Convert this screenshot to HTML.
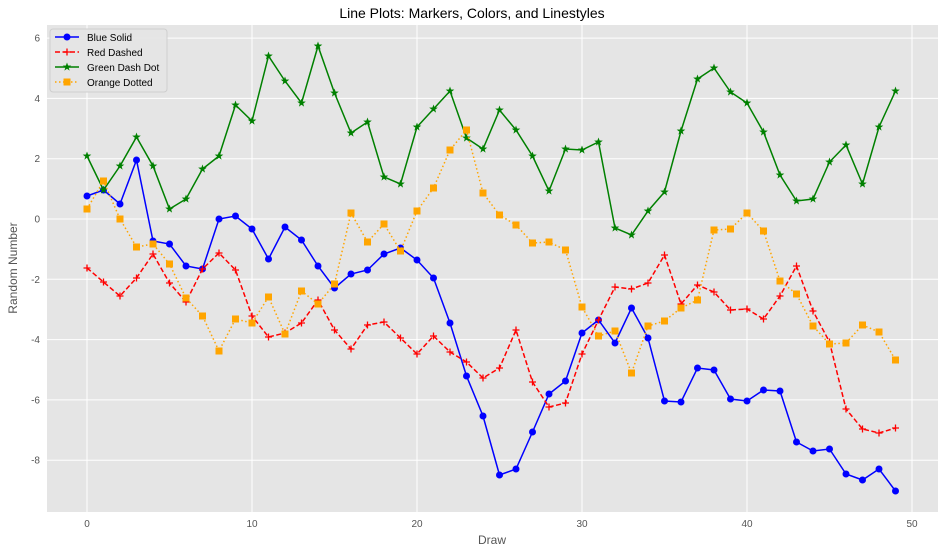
<!DOCTYPE html>
<html><head><meta charset="utf-8"><style>
body{margin:0;background:#fff;}
svg{display:block;font-family:"Liberation Sans","DejaVu Sans",sans-serif;}
</style></head><body>
<svg id="s" width="945" height="554" xmlns="http://www.w3.org/2000/svg">
<rect x="47" y="25" width="891" height="487" fill="#e5e5e5"/>
<g id="grid" stroke="#fff" stroke-width="1"></g>
<g id="series"></g>
<text x="472" y="18" text-anchor="middle" font-size="14" fill="#000">Line Plots: Markers, Colors, and Linestyles</text>
<text x="492" y="544" text-anchor="middle" font-size="12" fill="#555">Draw</text>
<text transform="translate(17,268) rotate(-90)" text-anchor="middle" font-size="12" fill="#555">Random Number</text>
<g id="ticks" font-size="10" fill="#555"></g>
<g id="legend"></g>
</svg>
<script>
const NS="http://www.w3.org/2000/svg";
function el(t,a,p){const e=document.createElementNS(NS,t);for(const k in a)e.setAttribute(k,a[k]);p.appendChild(e);return e;}
const g=document.getElementById('grid'),tk=document.getElementById('ticks');
for(let v=0;v<=50;v+=10){const x=87+16.5*v;el('line',{x1:x,x2:x,y1:25,y2:512},g);const t=el('text',{x:x,y:527,'text-anchor':'middle'},tk);t.textContent=v;}
for(let v=-8;v<=6;v+=2){const y=219-30.15*v;el('line',{x1:47,x2:938,y1:y,y2:y},g);const t=el('text',{x:40,y:y+3.5,'text-anchor':'end'},tk);t.textContent=v;}
const B=[196,190,204,160,241,244,266,269,219,216,229,259,227,240,266,288,274,270,254,248,260,278,323,376,416,475,469,432,394,381,333,320,343,308,338,401,402,368,370,399,401,390,391,442,451,449,474,480,469,491];
const R=[268,282,296,278,254,283,302,269,253,270,316,337,333,323,300,330,349,325,322,338,354,336,352,362,378,368,330,382,407,403,354,320,287,289,283,255,304,285,292,310,309,319,296,266,311,342,409,429,433,428];
const G=[156,190,166,137,166,209,199,169,156,105,121,56,81,103,46,93,133,122,177,184,127,109,91,138,149,110,130,156,191,149,150,142,228,235,211,192,131,79,68,92,103,132,175,201,199,162,145,184,127,91];
const O=[209,181,219,247,244,264,298,316,351,319,323,297,334,291,304,284,213,242,224,251,211,188,150,130,193,215,225,243,242,250,307,336,331,373,326,321,308,300,230,229,213,231,281,294,326,344,343,325,332,360];
const S=document.getElementById('series');
function star(cx,cy,r,p,c){let pts=[];for(let i=0;i<10;i++){const a=-Math.PI/2+i*Math.PI/5,rr=i%2?r*0.4:r;pts.push((cx+rr*Math.cos(a)).toFixed(1)+','+(cy+rr*Math.sin(a)).toFixed(1));}el('polygon',{points:pts.join(' '),fill:c},p);}
function marker(type,c,x,y,p){
 if(type=='o')el('circle',{cx:x,cy:y,r:3.5,fill:c},p);
 else if(type=='+'){el('path',{d:`M${x-3.5} ${y}h7M${x} ${y-3.5}v7`,stroke:c,'stroke-width':1.3},p);}
 else if(type=='*')star(x,y,4.5,p,c);
 else el('rect',{x:x-3.5,y:y-3.5,width:7,height:7,fill:c},p);
}
const ser=[[B,'#0000ff','','o'],[R,'#ff0000','5,2.5','+'],[G,'#008000','','*'],[O,'#ffa500','1.5,2.5','s']];
for(const[d,c,da,m] of ser){const pts=d.map((y,i)=>(87+16.5*i)+','+y).join(' ');el('polyline',{points:pts,fill:'none',stroke:c,'stroke-width':1.5,'stroke-dasharray':da},S);d.forEach((y,i)=>marker(m,c,87+16.5*i,y,S));}
const L=document.getElementById('legend');
el('rect',{x:50,y:29,width:117,height:63,fill:'#e5e5e5',stroke:'#ccc',rx:3,opacity:0.9},L);
const names=['Blue Solid','Red Dashed','Green Dash Dot','Orange Dotted'];
ser.forEach(([d,c,da,m],i)=>{const y=37+15*i;el('line',{x1:55,x2:79,y1:y,y2:y,stroke:c,'stroke-width':1.5,'stroke-dasharray':da},L);marker(m,c,67,y,L);const t=el('text',{x:87,y:y+4,'font-size':10,fill:'#000'},L);t.textContent=names[i];});
</script>
</body></html>
